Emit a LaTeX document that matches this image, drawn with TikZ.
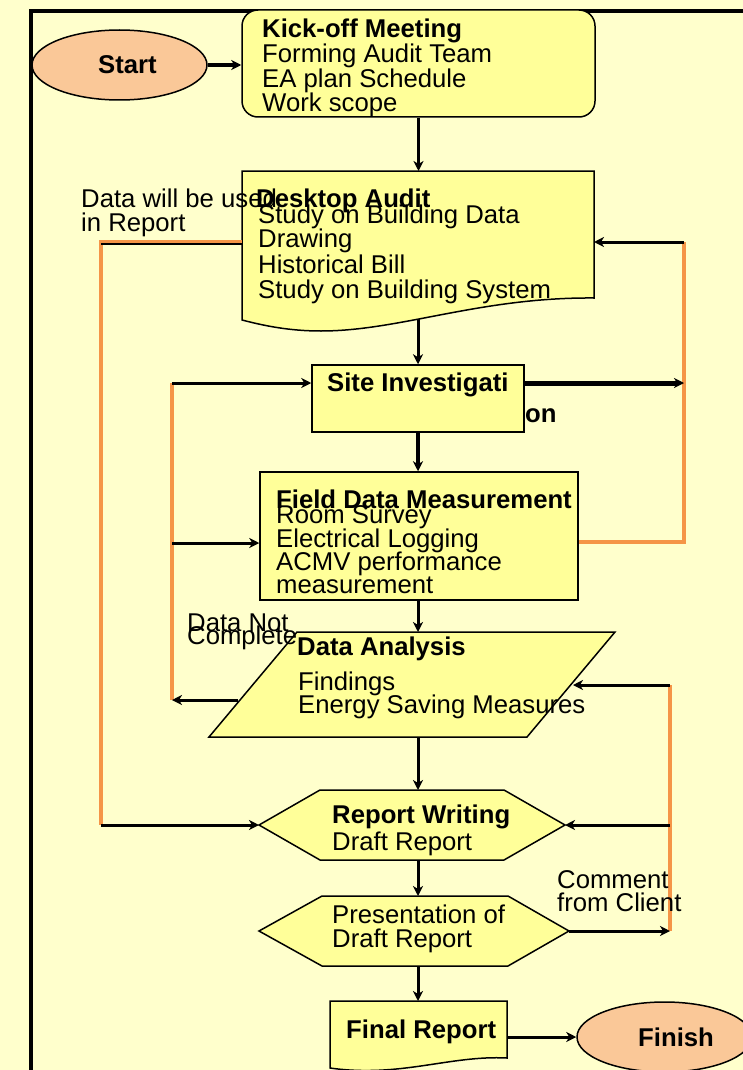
\documentclass[tikz,border=0pt]{standalone}
\usepackage{fontspec}
\setmainfont{Liberation Sans}
\usetikzlibrary{arrows.meta,shapes.geometric,calc}
\definecolor{bgc}{HTML}{FFFFCC}
\definecolor{boxc}{HTML}{FFFF99}
\definecolor{peach}{HTML}{FAC898}
\definecolor{orangel}{HTML}{F59547}
\newcommand\myfs{\fontsize{25.7}{24.5}\selectfont}
\begin{document}
\begin{tikzpicture}[x=1pt,y=-1pt,
  box/.style={draw=black,line width=1.5pt,fill=boxc},
  holder/.style={inner sep=0pt,outer sep=0pt,draw=none},
  conn/.style={line width=3pt,-{Stealth[length=10pt,width=10pt,inset=3pt]}},
  oline/.style={line width=4pt,orangel},
  txt/.style={anchor=base west,inner sep=0pt,font=\myfs},
  btxt/.style={anchor=base west,inner sep=0pt,font=\myfs\bfseries}]
\useasboundingbox (0,0) rectangle (743,1070);
\clip (0,0) rectangle (743,1070);
\fill[bgc] (0,0) rectangle (743,1070);
% frame
\draw[line width=4pt] (31,1090) -- (31,11) -- (770,11);

% ---------- nodes ----------
\node[ellipse,draw=black,line width=1.5pt,fill=peach,minimum width=175pt,minimum height=70pt,inner sep=0pt] (start) at (119.5,65) {};
\node[box,rounded corners=16pt,minimum width=353pt,minimum height=107pt,inner sep=0pt] (kick) at (418.5,63.5) {};

% desktop audit (document shape)
\node[holder,minimum width=352pt,minimum height=127pt] (desk) at (418,234.5) {};
\draw[box] (desk.north west) -- (desk.north east) -- (desk.south east)
  .. controls (480,297) and (400,331) .. (321,331)
  .. controls (290,331) and (265,326) .. (242,320) -- cycle;
\coordinate (deskb) at (418,319);

\node[box,minimum width=212pt,minimum height=67pt,inner sep=0pt] (site) at (418,398.5) {};
\node[box,minimum width=318pt,minimum height=128pt,inner sep=0pt] (field) at (419,536) {};

% data analysis (parallelogram)
\node[holder,minimum width=318pt,minimum height=105pt] (ana) at (418,684.5) {};
\draw[box] (297,632) -- (615,632) -- (527,737) -- (209,737) -- cycle;
\coordinate (anaL) at (238,700);
\coordinate (anaR) at (573,685);

% report writing (hexagon)
\node[holder,minimum width=306pt,minimum height=70pt] (rw) at (412,825) {};
\draw[box] (rw.west) -- (320,790) -- (504,790) -- (rw.east) -- (504,860) -- (320,860) -- cycle;

% presentation (hexagon)
\node[holder,minimum width=310pt,minimum height=70pt] (pres) at (414,931) {};
\draw[box] (pres.west) -- (322,896) -- (508,896) -- (pres.east) -- (508,966) -- (322,966) -- cycle;

% final report (document shape)
\node[holder,minimum width=177pt,minimum height=72pt] (fr) at (418.5,1037) {};
\draw[box] (330,1001) -- (507,1001) -- (507,1058)
  .. controls (450,1055) and (400,1078) .. (330,1068) -- cycle;

\node[ellipse,draw=black,line width=1.5pt,fill=peach,minimum width=175pt,minimum height=70pt,inner sep=0pt] (fin) at (664.5,1037) {};

% ---------- loop corner coordinates ----------
\coordinate (oa) at (101,242);
\coordinate (ob) at (101,825);
\coordinate (ia) at (172,383);
\coordinate (ib) at (172,543);
\coordinate (ic) at (172,700);
\coordinate (ra) at (684,242);
\coordinate (rb) at (684,383);
\coordinate (rc) at (684,542);
\coordinate (deskR) at (594,242);
\coordinate (qa) at (670,685);
\coordinate (qb) at (670,825);
\coordinate (qc) at (670,931);

% ---------- orange lines ----------
\draw[oline] (desk.west |- oa) -- (oa) -- (ob);
\draw[line width=2pt] ($(oa)+(0,1.5)$) -- ($(desk.west |- oa)+(0,1.5)$);
\draw[oline] (ia) -- (ic);
\draw[oline] (field.east |- rc) -- (rc) -- (ra);
\draw[oline] (qa) -- (qc);

% ---------- connectors ----------
\draw[conn,line width=4pt] (start.east) -- (start.east -| kick.west);
\draw[conn] (kick.south) -- (kick.south |- desk.north);
\draw[conn] (deskb) -- (site.north);
\draw[conn,line width=4pt] (site.south) -- (site.south |- field.north);
\draw[conn] (field.south -| ana.north) -- (ana.north);
\draw[conn] (ana.south) -- (ana.south |- rw.north);
\draw[conn] (ana.south |- rw.south) -- (ana.south |- pres.north);
\draw[conn] (ana.south |- pres.south) -- (ana.south |- fr.north);
\draw[conn] (fr.east |- fin.west) -- (fin.west);

\draw[conn] (ob) -- (rw.west);
\draw[conn] (ia) -- (site.west |- ia);
\draw[conn] (ib) -- (field.west |- ib);
\draw[conn] (anaL) -- (ic);
\draw[conn,line width=5pt] (site.east |- rb) -- (rb);
\draw[conn] (ra) -- (deskR);
\draw[conn] (qa) -- (anaR);
\draw[conn] (qb) -- (rw.east);
\draw[conn] (pres.east) -- (qc);

% ---------- texts ----------
\node[btxt] (tstart) at (98,74) {Start};
\node[btxt] (k1) at (262,38) {Kick-off Meeting};
\node[txt] (k2) at (262,63) {Forming Audit Team};
\node[txt] (k3) at (262,88) {EA plan Schedule};
\node[txt] (k4) at (262,112) {Work scope};

\node[btxt] (d1) at (256,207) {Desktop Audit};
\node[txt] (d2) at (258,223) {Study on Building Data};
\node[txt] (d3) at (258,247) {Drawing};
\node[txt] (d4) at (258,273) {Historical Bill};
\node[txt] (d5) at (258,298) {Study on Building System};
\node[txt] (u1) at (81,207) {Data will be used};
\node[txt] (u2) at (81,231) {in Report};

\node[btxt] (s1) at (327,391) {Site Investigati};
\node[btxt] (s2) at (525,422) {on};

\node[btxt] (f1) at (276,508) {Field Data Measurement};
\node[txt] (f2) at (276,523) {Room Survey};
\node[txt] (f3) at (276,547) {Electrical Logging};
\node[txt] (f4) at (276,570) {ACMV performance};
\node[txt] (f5) at (276,593) {measurement};

\node[btxt] (a1) at (297,655) {Data Analysis};
\node[txt] (a2) at (298,690) {Findings};
\node[txt] (a3) at (298,713) {Energy Saving Measures};
\node[txt] (n1) at (187,631) {Data Not};
\node[txt] (n2) at (187,644) {Complete};

\node[btxt] (r1) at (332,823) {Report Writing};
\node[txt] (r2) at (332,850) {Draft Report};

\node[txt] (c1) at (557,888) {Comment};
\node[txt] (c2) at (557,911) {from Client};

\node[txt] (p1) at (332,923) {Presentation of};
\node[txt] (p2) at (332,947) {Draft Report};

\node[btxt] (fr1) at (346,1038) {Final Report};
\node[btxt] (fi1) at (638,1046) {Finish};
\end{tikzpicture}
\end{document}
